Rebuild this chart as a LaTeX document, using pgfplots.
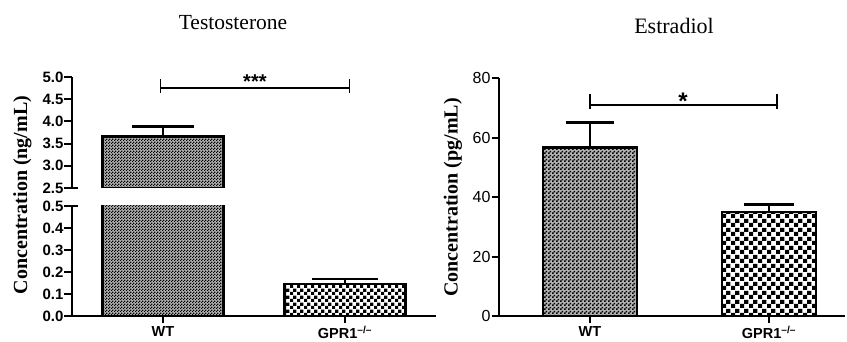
\documentclass[border=0pt]{standalone}
\usepackage{fontspec}
\setmainfont{Liberation Sans}
\newfontfamily\tnr{Liberation Serif}
\usepackage{pgfplots}
\pgfplotsset{compat=1.18}
\usetikzlibrary{patterns}

\pgfdeclarepatternformonly{chkA}{\pgfpointorigin}{\pgfqpoint{3pt}{3pt}}{\pgfqpoint{3pt}{3pt}}{%
 \pgfpathrectangle{\pgfqpoint{0pt}{0pt}}{\pgfqpoint{1.5pt}{1.5pt}}%
 \pgfpathrectangle{\pgfqpoint{1.5pt}{1.5pt}}{\pgfqpoint{1.5pt}{1.5pt}}%
 \pgfusepath{fill}}
\pgfdeclarepatternformonly{chkB}{\pgfpointorigin}{\pgfqpoint{6.6pt}{6.6pt}}{\pgfqpoint{6.6pt}{6.6pt}}{%
 \pgfpathrectangle{\pgfqpoint{0pt}{0pt}}{\pgfqpoint{3.3pt}{3.3pt}}%
 \pgfpathrectangle{\pgfqpoint{3.3pt}{3.3pt}}{\pgfqpoint{3.3pt}{3.3pt}}%
 \pgfusepath{fill}}
\pgfdeclarepatternformonly{chkC}{\pgfpointorigin}{\pgfqpoint{4pt}{4pt}}{\pgfqpoint{4pt}{4pt}}{%
 \pgfpathrectangle{\pgfqpoint{0pt}{0pt}}{\pgfqpoint{2pt}{2pt}}%
 \pgfpathrectangle{\pgfqpoint{2pt}{2pt}}{\pgfqpoint{2pt}{2pt}}%
 \pgfusepath{fill}}
\pgfdeclarepatternformonly{chkD}{\pgfpointorigin}{\pgfqpoint{8.6pt}{8.6pt}}{\pgfqpoint{8.6pt}{8.6pt}}{%
 \pgfpathrectangle{\pgfqpoint{0pt}{0pt}}{\pgfqpoint{4.3pt}{4.3pt}}%
 \pgfpathrectangle{\pgfqpoint{4.3pt}{4.3pt}}{\pgfqpoint{4.3pt}{4.3pt}}%
 \pgfusepath{fill}}

\pgfplotsset{
  brk/.style={
    scale only axis, anchor=south west, clip mode=individual,
    axis line style={line width=2pt},
    major tick style={line width=2pt, black},
    major tick length=7.5pt, tick align=outside,
    ybar, bar shift=0pt,
    /pgf/number format/assume math mode=true,
    yticklabel={\pgfmathprintnumber{\tick}},
    yticklabel style={inner xsep=0.8pt},
    xticklabel style={yshift=1pt},
    error bars/y dir=plus, error bars/y explicit,
    error bars/error bar style={line width=2.6pt},
  },
}

\begin{document}
\begin{tikzpicture}[x=1pt,y=1pt]
\useasboundingbox (0,0) rectangle (847,342);

% ---------- Testosterone: lower segment ----------
\begin{axis}[brk, at={(72pt,26pt)}, width=364pt, height=110pt,
  xmin=-0.5, xmax=1.5, ymin=0, ymax=0.5,
  axis x line*=bottom, axis y line*=left,
  xtick={0,1}, xticklabels={WT, GPR1\textsuperscript{--/--}},
  xticklabel style={font=\bfseries\fontsize{14.5}{16}\selectfont},
  ytick={0,0.1,0.2,0.3,0.4,0.5},
  yticklabel style={font=\bfseries\fontsize{15}{16}\selectfont,
    /pgf/number format/.cd, fixed, fixed zerofill, precision=1},
  bar width=121pt]
\addplot[draw=black, line width=2.6pt, fill=black!30, postaction={pattern=chkA, pattern color=black},
  error bars/error mark options={rotate=90, line width=2.6pt, mark size=31pt, black}]
  coordinates {(0,3.66) +- (0,0.23)};
\addplot[draw=black, line width=2.6pt, pattern=chkB, pattern color=black,
  error bars/error mark options={rotate=90, line width=2.6pt, mark size=33pt, black}]
  coordinates {(1,0.145) +- (0,0.024)};
\draw[line width=2pt] (axis cs:-0.5,0.5) -- (axis cs:-0.467,0.5);
\end{axis}

% ---------- Testosterone: upper segment ----------
\begin{axis}[brk, at={(72pt,154pt)}, width=364pt, height=111pt,
  xmin=-0.5, xmax=1.5, ymin=2.5, ymax=5.0,
  axis x line=none, axis y line*=left,
  ytick={2.5,3.0,3.5,4.0,4.5,5.0},
  yticklabel style={font=\bfseries\fontsize{15}{16}\selectfont,
    /pgf/number format/.cd, fixed, fixed zerofill, precision=1},
  bar width=121pt]
\addplot[draw=black, line width=2.6pt, fill=black!30, postaction={pattern=chkA, pattern color=black},
  error bars/error mark options={rotate=90, line width=2.6pt, mark size=31pt, black}]
  coordinates {(0,3.66) +- (0,0.23)};
\draw[line width=2pt] (axis cs:-0.5,2.5) -- (axis cs:-0.467,2.5);
\draw[line width=1.8pt] (axis cs:-0.014,4.76) -- (axis cs:1.025,4.76);
\draw[line width=1.8pt] (axis cs:-0.014,4.95) -- (axis cs:-0.014,4.63);
\draw[line width=1.8pt] (axis cs:1.025,4.95) -- (axis cs:1.025,4.63);
\node[anchor=base, inner sep=0pt, font=\bfseries\fontsize{20}{22}\selectfont]
  at (axis cs:0.505,4.74) {***};
\end{axis}

\node[font=\tnr\fontsize{21.5}{24}\selectfont, anchor=base] at (233,312.7) {Testosterone};
\node[font=\tnr\bfseries\fontsize{20}{22}\selectfont, rotate=90] at (22.5,147) {Concentration (ng/mL)};

% ---------- Estradiol ----------
\begin{axis}[brk, at={(499pt,26pt)}, width=346pt, height=237.7pt,
  xmin=-0.508, xmax=1.425, ymin=0, ymax=80,
  axis x line*=bottom, axis y line*=left,
  xtick={0,1}, xticklabels={WT, GPR1\textsuperscript{--/--}},
  xticklabel style={font=\bfseries\fontsize{14.5}{16}\selectfont},
  ytick={0,20,40,60,80},
  yticklabel style={font=\fontsize{16}{18}\selectfont},
  bar width=94pt]
\addplot[draw=black, line width=2.6pt, fill=black!30, postaction={pattern=chkC, pattern color=black},
  error bars/error mark options={rotate=90, line width=2.6pt, mark size=24pt, black}]
  coordinates {(0,56.7) +- (0,8.4)};
\addplot[draw=black, line width=2.6pt, pattern=chkD, pattern color=black,
  error bars/error mark options={rotate=90, line width=2.6pt, mark size=25pt, black}]
  coordinates {(1,35.0) +- (0,2.5)};
\draw[line width=1.8pt] (axis cs:0,71.1) -- (axis cs:1.045,71.1);
\draw[line width=1.8pt] (axis cs:0,74.8) -- (axis cs:0,69.7);
\draw[line width=1.8pt] (axis cs:1.045,74.8) -- (axis cs:1.045,69.7);
\node[anchor=base, inner sep=0pt, font=\bfseries\fontsize{24}{26}\selectfont]
  at (axis cs:0.52,69.6) {*};
\end{axis}

\node[font=\tnr\fontsize{22}{24}\selectfont, anchor=base] at (674,308.7) {Estradiol};
\node[font=\tnr\bfseries\fontsize{20}{22}\selectfont, rotate=90] at (453,144.5) {Concentration (pg/mL)};
\end{tikzpicture}
\end{document}
